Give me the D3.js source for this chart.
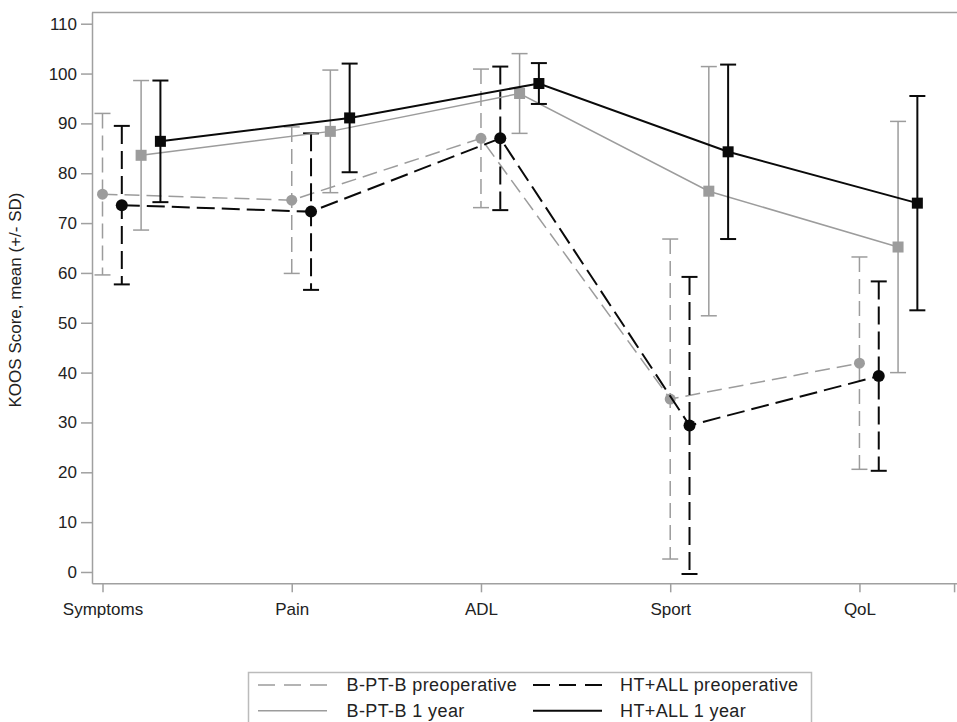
<!DOCTYPE html>
<html>
<head>
<meta charset="utf-8">
<script src="https://cdn.jsdelivr.net/npm/d3@7"></script>
<style>
  body { margin: 0; background: #fff; }
  text { font-family: Arial, 'Liberation Sans', sans-serif; }
</style>
</head>
<body>
<div class="chart"></div>
<script>
const categories = ['Symptoms', 'Pain', 'ADL', 'Sport', 'QoL'];
const yTicks = [0, 10, 20, 30, 40, 50, 60, 70, 80, 90, 100, 110];

// mean and SD per KOOS subscale
const bptbPreMean = [75.8, 74.6, 87.0, 34.7, 41.9];
const bptbPreSD = [16.2, 14.7, 13.9, 32.1, 21.3];
const htallPreMean = [73.6, 72.3, 87.0, 29.4, 39.3];
const htallPreSD = [15.9, 15.7, 14.4, 29.8, 19.0];
const bptb1yMean = [83.6, 88.4, 96.0, 76.4, 65.2];
const bptb1ySD = [15.0, 12.3, 8.0, 25.0, 25.2];
const htall1yMean = [86.4, 91.1, 98.0, 84.3, 74.0];
const htall1ySD = [12.2, 10.9, 4.1, 17.5, 21.5];

const seriesNames = ['B-PT-B preoperative', 'HT+ALL preoperative', 'B-PT-B 1 year', 'HT+ALL 1 year'];

const grey = '#9c9c9c', black = '#0a0a0a';

const series = [
  { name: seriesNames[0], mean: bptbPreMean, sd: bptbPreSD, offset: 0, color: grey, width: 1.5, dash: '15,7', shape: 'circle' },
  { name: seriesNames[1], mean: htallPreMean, sd: htallPreSD, offset: 0.102, color: black, width: 2, dash: '18,7', shape: 'circle' },
  { name: seriesNames[2], mean: bptb1yMean, sd: bptb1ySD, offset: 0.204, color: grey, width: 1.5, dash: null, shape: 'square' },
  { name: seriesNames[3], mean: htall1yMean, sd: htall1ySD, offset: 0.306, color: black, width: 2, dash: null, shape: 'square' }
];

const width = 957, height = 722;
const plotLeft = 92, plotRight = 957, plotTop = 12, plotBottom = 583.3;
const axisColor = '#a0a0a0', textColor = '#222';

const svg = d3.select('.chart').append('svg')
  .attr('width', width)
  .attr('height', height);

const x = d3.scaleLinear().domain([-0.0555, 4.5155]).range([plotLeft, plotRight]);
const y = d3.scaleLinear().domain([-2.27, 112.35]).range([plotBottom, plotTop]);

// frame top line
svg.append('line')
  .attr('x1', plotLeft).attr('x2', plotRight)
  .attr('y1', plotTop + 0.5).attr('y2', plotTop + 0.5)
  .attr('stroke', axisColor).attr('stroke-width', 1.5);

const yAxis = svg.append('g')
  .attr('transform', `translate(${plotLeft}, 0)`)
  .call(d3.axisLeft(y).tickValues(yTicks).tickSize(11).tickPadding(4).tickSizeOuter(0));

const xAxis = svg.append('g')
  .attr('transform', `translate(0, ${plotBottom})`)
  .call(d3.axisBottom(x)
    .tickValues([0, 1, 2, 3, 4, 4.5])
    .tickFormat(d => categories[d] || '')
    .tickSize(9).tickPadding(11).tickSizeOuter(0));

[yAxis, xAxis].forEach(a => {
  a.select('.domain').attr('stroke', axisColor).attr('stroke-width', 1.5);
  a.selectAll('.tick line').attr('stroke', axisColor).attr('stroke-width', 1.5);
  a.selectAll('.tick text').attr('fill', textColor).attr('font-size', 17);
});

svg.append('text')
  .attr('transform', `translate(21, 300) rotate(-90)`)
  .attr('text-anchor', 'middle')
  .attr('font-size', 17)
  .attr('fill', textColor)
  .text('KOOS Score, mean (+/- SD)');

const line = d3.line()
  .x(d => x(d.i + d.offset))
  .y(d => y(d.mean));

series.forEach(s => {
  const pts = s.mean.map((m, i) => ({ i, offset: s.offset, mean: m, sd: s.sd[i] }));
  const g = svg.append('g');

  // error bars
  const bars = g.selectAll('g.bar').data(pts).enter().append('g');
  bars.append('line')
    .attr('x1', d => x(d.i + s.offset)).attr('x2', d => x(d.i + s.offset))
    .attr('y1', d => y(d.mean + d.sd)).attr('y2', d => y(d.mean - d.sd))
    .attr('stroke', s.color).attr('stroke-width', s.width)
    .attr('stroke-dasharray', s.dash);
  [1, -1].forEach(sign => {
    bars.append('line')
      .attr('x1', d => x(d.i + s.offset) - 8).attr('x2', d => x(d.i + s.offset) + 8)
      .attr('y1', d => y(d.mean + sign * d.sd)).attr('y2', d => y(d.mean + sign * d.sd))
      .attr('stroke', s.color).attr('stroke-width', s.width);
  });

  g.append('path')
    .datum(pts)
    .attr('d', line)
    .attr('fill', 'none')
    .attr('stroke', s.color)
    .attr('stroke-width', s.width)
    .attr('stroke-dasharray', s.dash);

  if (s.shape === 'circle') {
    g.selectAll('circle').data(pts).enter().append('circle')
      .attr('cx', d => x(d.i + s.offset))
      .attr('cy', d => y(d.mean))
      .attr('r', s.color === black ? 6 : 5.5)
      .attr('fill', s.color);
  } else {
    const sz = 11;
    g.selectAll('rect').data(pts).enter().append('rect')
      .attr('x', d => x(d.i + s.offset) - sz / 2)
      .attr('y', d => y(d.mean) - sz / 2)
      .attr('width', sz).attr('height', sz)
      .attr('fill', s.color);
  }
});

// legend
const legend = svg.append('g');
legend.append('rect')
  .attr('x', 248.5).attr('y', 672.5)
  .attr('width', 563).attr('height', 60)
  .attr('fill', 'none')
  .attr('stroke', '#bbb').attr('stroke-width', 1.5);

const legendPos = [
  { x: 258, y: 685 }, { x: 533, y: 685 },
  { x: 258, y: 710.7 }, { x: 533, y: 710.7 }
];

const items = legend.selectAll('g.item').data(series).enter().append('g')
  .attr('transform', (d, i) => `translate(${legendPos[i].x}, ${legendPos[i].y})`);

items.append('line')
  .attr('x1', 0).attr('x2', 69)
  .attr('stroke', d => d.color)
  .attr('stroke-width', d => d.width)
  .attr('stroke-dasharray', d => d.dash ? '17,9' : null);

items.append('text')
  .attr('x', (d, i) => i % 2 === 0 ? 88.5 : 87)
  .attr('y', 6)
  .attr('font-size', 18)
  .attr('letter-spacing', 0.4)
  .attr('fill', textColor)
  .text(d => d.name);
</script>
</body>
</html>
